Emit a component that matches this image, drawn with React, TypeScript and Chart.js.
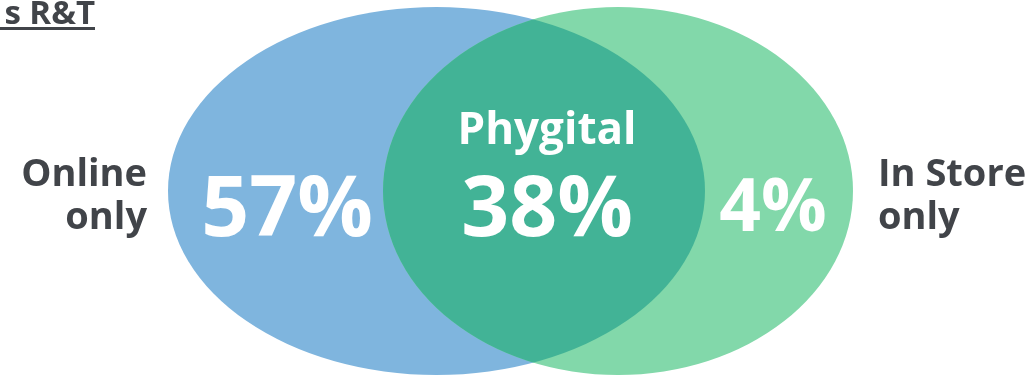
import React, { useEffect, useRef } from "react";
import { Chart, registerables } from "chart.js";

Chart.register(...registerables);

// Venn sets (drawn in a 1036 x 378 data space)
const setNames = ["Online only", "In Store only"];
const setCenterX = [436.5, 618];
const setCenterY = [191, 191];
const setRadiusX = [268.5, 235];
const setRadiusY = [184, 184];
const setColors = ["#7FB5DE", "#82D8AA"];
const overlapColor = "#42B396";

// Shares
const shareLabels = ["57%", "38%", "4%"];
const shareX = [287, 547, 773];
const shareY = [236, 236, 231];
const shareFontSizes = [84, 84, 73];
const overlapName = "Phygital";
const titleText = "s R&T";

const FONT = "'Open Sans', 'Noto Sans', sans-serif";
const TEXT_DARK = "#414449";

const vennPlugin = {
  id: "venn",
  beforeDatasetsDraw(chart: any) {
    const { ctx, scales } = chart;
    const xs = scales.x;
    const ys = scales.y;
    const ell = (i: number) => {
      const px = xs.getPixelForValue(setCenterX[i]);
      const py = ys.getPixelForValue(setCenterY[i]);
      const rx = Math.abs(xs.getPixelForValue(setCenterX[i] + setRadiusX[i]) - px);
      const ry = Math.abs(ys.getPixelForValue(setCenterY[i] + setRadiusY[i]) - py);
      ctx.beginPath();
      ctx.ellipse(px, py, rx, ry, 0, 0, Math.PI * 2);
    };
    ctx.save();
    for (let i = 0; i < 2; i++) {
      ell(i);
      ctx.fillStyle = setColors[i];
      ctx.fill();
    }
    ctx.save();
    ell(0);
    ctx.clip();
    ell(1);
    ctx.fillStyle = overlapColor;
    ctx.fill();
    ctx.restore();

    const P = (x: number, y: number) => [xs.getPixelForValue(x), ys.getPixelForValue(y)];

    // big shares
    ctx.fillStyle = "#ffffff";
    ctx.textBaseline = "alphabetic";
    ctx.textAlign = "center";
    for (let i = 0; i < shareLabels.length; i++) {
      ctx.font = `bold ${shareFontSizes[i]}px ${FONT}`;
      const [x, y] = P(shareX[i], shareY[i]);
      ctx.fillText(shareLabels[i], x, y);
    }
    ctx.font = `bold 44px ${FONT}`;
    {
      const [x, y] = P(547, 144);
      ctx.fillText(overlapName, x, y);
    }

    // side labels
    ctx.fillStyle = TEXT_DARK;
    ctx.font = `bold 38px ${FONT}`;
    const [l1, l2] = setNames[0].split(" ");
    ctx.textAlign = "right";
    let [x, y] = P(147, 186);
    ctx.fillText(l1, x, y);
    [x, y] = P(147, 229);
    ctx.fillText(l2, x, y);
    ctx.textAlign = "left";
    [x, y] = P(878, 186);
    ctx.fillText("In Store", x, y);
    [x, y] = P(878, 229);
    ctx.fillText("only", x, y);

    // clipped title
    ctx.font = `bold 33px ${FONT}`;
    ctx.textAlign = "right";
    [x, y] = P(95, 24);
    ctx.fillText(titleText, x, y);
    ctx.fillRect(0, ys.getPixelForValue(27), x, 3);
    ctx.restore();
  },
};

export default function App() {
  const ref = useRef<HTMLCanvasElement | null>(null);
  useEffect(() => {
    document.body.style.margin = "0";
    const canvas = ref.current!;
    const chart = new Chart(canvas, {
      type: "scatter",
      data: { datasets: [{ data: [], pointRadius: 0 }] },
      options: {
        animation: false,
        responsive: false,
        devicePixelRatio: 1,
        layout: { padding: 0 },
        plugins: { legend: { display: false }, tooltip: { enabled: false } },
        scales: {
          x: { type: "linear", min: 0, max: 1036, display: false },
          y: { type: "linear", min: 0, max: 378, reverse: true, display: false },
        },
      },
      plugins: [vennPlugin],
    });
    return () => chart.destroy();
  }, []);
  return (
    <div style={{ width: 1036, height: 378, background: "#fff" }}>
      <canvas ref={ref} width={1036} height={378} style={{ display: "block" }} />
    </div>
  );
}
